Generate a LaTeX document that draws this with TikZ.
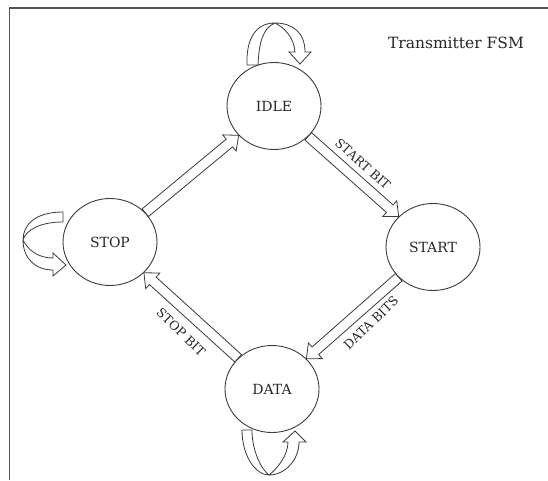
\documentclass[tikz,border=0pt]{standalone}
\usepackage{fontspec}
\setmainfont{DejaVu Serif}
\usetikzlibrary{calc,shapes.geometric}
\definecolor{linec}{HTML}{3A3A3A}
\definecolor{framec}{HTML}{555555}
\newcommand\shw{5pt}
\newcommand\hdw{10.5pt}
\newcommand\hdl{12pt}
\newcommand\blockarrow[2]{%
  \path (#1) -- (#2) coordinate[pos=0] (ba-#1) coordinate[pos=1] (bb-#1);
  \coordinate (bh-#1) at ($(bb-#1)!\hdl!(ba-#1)$);
  \draw[blk] ($(ba-#1)!\shw!90:(bb-#1)$) -- ($(bh-#1)!\shw!90:(bb-#1)$)
    -- ($(bh-#1)!\hdw!90:(bb-#1)$) -- (bb-#1)
    -- ($(bh-#1)!\hdw!-90:(bb-#1)$) -- ($(bh-#1)!\shw!-90:(bb-#1)$)
    -- ($(ba-#1)!\shw!-90:(bb-#1)$) -- cycle;}
\begin{document}
\begin{tikzpicture}[x=1pt,y=1pt,
  state/.style={draw=linec, line width=0.9pt, ellipse, minimum width=94pt,
    minimum height=87pt, inner sep=0pt, text=black!85, font=\fontsize{14}{17}\selectfont},
  blk/.style={draw=linec, fill=white, line width=0.8pt, line join=miter},
  lbl/.style={font=\fontsize{12.5}{15}\selectfont, text=black!85, inner sep=1pt}]
\useasboundingbox (0,0) rectangle (548,480);
\draw[framec, line width=1.6pt] (9.5,0) -- (9.5,472) -- (548,472);

\node[state] (idle) at (274,374) {IDLE};
\node[state] (start) at (433,233) {START};
\node[state] (stop) at (110,238) {STOP};
\node[state] (data) at (272,91) {DATA};
\node[font=\fontsize{15.5}{19}\selectfont, text=black!85] (title) at (456,437) {Transmitter FSM};

\blockarrow{stop}{idle}
\blockarrow{idle}{start}
\blockarrow{start}{data}
\blockarrow{data}{stop}

\node[lbl, rotate=-42] (lsb) at (363,316) {START BIT};
\node[lbl, rotate=44] (ldb) at (371,157) {DATA BITS};
\node[lbl, rotate=-44] (lstb) at (181,148) {STOP BIT};

% self loops
\begin{scope}[shift={(idle.center)}]
\draw[blk] (-27,41) .. controls (-28,66) and (-19,83) .. (1,83)
  .. controls (18,83) and (31,74) .. (31,54) -- (37,54) -- (26,42) -- (15,54) -- (21,54)
  .. controls (20,68) and (11,78) .. (1,83)
  .. controls (-11,78) and (-15,64) .. (-16,41) -- cycle;
\end{scope}
\begin{scope}[shift={(stop.center)}]
\draw[blk] (-47,30) .. controls (-75,30) and (-87,17) .. (-87,2)
  .. controls (-87,-16) and (-75,-28) .. (-57,-28) -- (-57,-34) -- (-44,-23) -- (-57,-11) -- (-57,-16)
  .. controls (-72,-16) and (-82,-8) .. (-87,2)
  .. controls (-84,12) and (-70,20) .. (-47,20) -- cycle;
\end{scope}
\begin{scope}[shift={(data.center)}]
\draw[blk] (-30,-41) .. controls (-30,-66) and (-17,-86) .. (-3,-86)
  .. controls (13,-86) and (27,-71) .. (27,-53) -- (34,-53) -- (23,-42) -- (11,-53) -- (16,-53)
  .. controls (16,-66) and (6,-79) .. (-3,-86)
  .. controls (-10,-81) and (-20,-63) .. (-20,-41) -- cycle;
\end{scope}
\end{tikzpicture}
\end{document}
